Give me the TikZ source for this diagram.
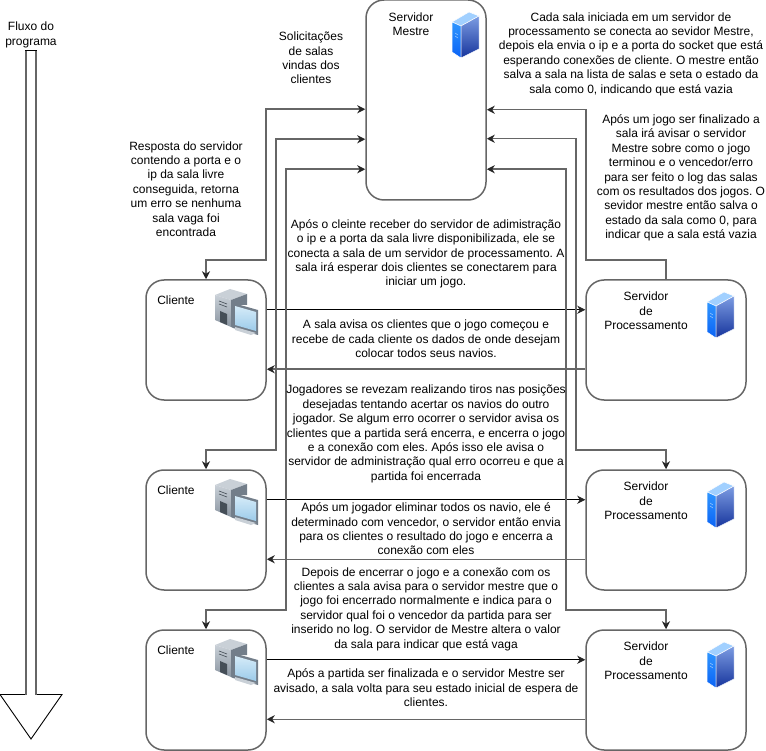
\documentclass[tikz,border=0pt]{standalone}
\usepackage{fontspec}
\setmainfont{Liberation Sans}
\usetikzlibrary{arrows.meta,calc}
\definecolor{linegray}{HTML}{666666}
\definecolor{towerA}{HTML}{C9D0D7}
\definecolor{towerB}{HTML}{8A95A1}
\definecolor{towerC}{HTML}{454E57}
\definecolor{towerD}{HTML}{737E8A}
\definecolor{screenA}{HTML}{9CCBEA}
\definecolor{screenB}{HTML}{D5EBF8}
\definecolor{blueA}{HTML}{2F96FF}
\definecolor{blueB}{HTML}{0A62F5}
\definecolor{blueC}{HTML}{7C9CE2}
\definecolor{blueD}{HTML}{16349C}
\tikzset{
	every node/.style={font=\fontsize{12}{14.4}\selectfont\frenchspacing, align=center, inner sep=0pt},
	conn/.style={line width=1.5pt, linegray},
	connthin/.style={line width=0.9pt, black},
	roundbox/.style={draw=linegray, line width=1.5pt, rounded corners=18pt, minimum height=120pt},
	clientebox/.style={roundbox, minimum width=120pt},
	servidorbox/.style={roundbox, minimum width=160pt},
	servericon/.pic={
		\fill[blueA!45!white, draw=white, line width=0.5pt] (0,10) -- (17,0) -- (27,4) -- (9,14) -- cycle;
		\shade[top color=blueA, bottom color=blueB, draw=white, line width=0.5pt] (0,10) -- (9,14) -- (9,46) -- (0,40) -- cycle;
		\shade[top color=blueC, bottom color=blueD, draw=white, line width=0.5pt] (9,14) -- (27,4) -- (27,37) -- (9,46) -- cycle;
		\draw[white!70!blueA, line width=0.4pt] (3,21) -- (6,23) (3,24) -- (6,26);
	},
	clienticon/.pic={
		\fill[towerA] (0,6) -- (15,0) -- (32,5) -- (16,11) -- cycle;
		\shade[top color=towerA, bottom color=towerB] (0,6) -- (16,11) -- (16,38) -- (0,31) -- cycle;
		\fill[towerD] (16,11) -- (32,5) -- (32,16) -- (18,16) -- (18,39) -- (16,38) -- cycle;
		\fill[towerC] (5,22) -- (12,25) -- (12,36) -- (5,33) -- cycle;
		\draw[towerC, line width=0.6pt] (4,12) -- (12,15) (4,15) -- (12,18);
		\fill[towerD] (18,14) -- (43,21) -- (43,46) -- (18,39) -- cycle;
		\shade[top color=screenB, bottom color=screenA] (20,17) -- (41,23) -- (41,42) -- (20,36) -- cycle;
		\fill[towerA] (20,38) -- (41,44) -- (36,46) -- (20,41) -- cycle;
	},
}
\begin{document}
\begin{tikzpicture}[x=1pt, y=-1pt, >={Stealth[length=8pt,width=8pt,inset=2.5pt,color=black!85]}]
	\useasboundingbox (0,0) rectangle (766,751);
	% Flow arrow
	\draw[connthin] (36,694.5) -- (62,694.5) -- (31,739) -- (0,694.5) -- (26,694.5);
	\draw[conn] (26,694.5) -- (26,50.5);
	\draw[conn] (36,694.5) -- (36,50.5);
	\draw[connthin] (25.3,50.5) -- (36.7,50.5);
	\node (fluxo) at (31,35) {Fluxo do\\programa};
	% Master
	\node[roundbox, minimum width=120pt, minimum height=200pt] (master) at (426,100) {};
	\node (masterlabel) at (411,24) {Servidor\\Mestre};
	\pic at (452,12) {servericon};
	% Rows
	\foreach \k/\rowtop in {1/280, 2/470, 3/630} {
		\node[clientebox] (cliente\k) at (206,\rowtop+60) {};
		\node[servidorbox] (servidor\k) at (666,\rowtop+60) {};
		\node (clientelabel\k) at (176,\rowtop+20.5) {Cliente};
		\node (servidorlabel\k) at (646,\rowtop+31) {Servidor\\de\\Processamento};
		\pic at (215,\rowtop+9) {clienticon};
		\pic at (707,\rowtop+12) {servericon};
		\draw[connthin, ->] ($(cliente\k.north east)+(0,30.5)$) -- ($(servidor\k.north west)+(0,30.5)$);
		\draw[conn, ->] ($(servidor\k.north west)+(0,90)$) -- ($(cliente\k.north east)+(0,90)$);
	}
	% Requests on the left
	\foreach \k/\porty/\lanex/\turny in {1/110/266/260, 2/140/276/450, 3/170/286/610} {
		\draw[conn, <->] ($(master.north west)+(0,\porty)$) -| (\lanex,\turny) -| (cliente\k.north);
	}
	% Rooms on the right
	\draw[conn, <-] ($(master.north east)+(0,110.5)$) -| (586,260) -| (servidor1.north);
	\draw[conn, <->] ($(master.north east)+(0,139.5)$) -| (576,450) -| (servidor2.north);
	\draw[conn, <->] ($(master.north east)+(0,170)$) -| (566,610) -| (servidor3.north);
	% Texts
	\node (solicitacoes) at (311,58) {Solicitações\\de salas\\vindas dos\\clientes};
	\node (resposta) at (186,189) {Resposta do servidor\\contendo a porta e o\\ip da sala livre\\conseguida, retorna\\um erro se nenhuma\\sala vaga foi\\encontrada};
	\node (cadasala) at (631,54) {Cada sala iniciada em um servidor de\\processamento se conecta ao sevidor Mestre,\\depois ela envia o ip e a porta do socket que está\\esperando conexões de cliente. O mestre então\\salva a sala na lista de salas e seta o estado da\\sala como 0, indicando que está vazia};
	\node (aposjogo) at (681,178) {Após um jogo ser finalizado a\\sala irá avisar o servidor\\Mestre sobre como o jogo\\terminou e o vencedor/erro\\para ser feito o log das salas\\com os resultados dos jogos. O\\sevidor mestre então salva o\\estado da sala como 0, para\\indicar que a sala está vazia};
	\node (aposcliente) at (426,254) {Após o cleinte receber do servidor de adimistração\\o ip e a porta da sala livre disponibilizada, ele se\\conecta a sala de um servidor de processamento. A\\sala irá esperar dois clientes se conectarem para\\iniciar um jogo.};
	\node (avisa) at (426,339) {A sala avisa os clientes que o jogo começou e\\recebe de cada cliente os dados de onde desejam\\colocar todos seus navios.};
	\node (jogadores) at (426,434) {Jogadores se revezam realizando tiros nas posições\\desejadas tentando acertar os navios do outro\\jogador. Se algum erro ocorrer o servidor avisa os\\clientes que a partida será encerra, e encerra o jogo\\e a conexão com eles. Após isso ele avisa o\\servidor de administração qual erro ocorreu e que a\\partida foi encerrada};
	\node (eliminar) at (426,529) {Após um jogador eliminar todos os navio, ele é\\determinado com vencedor, o servidor então envia\\para os clientes o resultado do jogo e encerra a\\conexão com eles};
	\node (depois) at (426,609) {Depois de encerrar o jogo e a conexão com os\\clientes a sala avisa para o servidor mestre que o\\jogo foi encerrado normalmente e indica para o\\servidor qual foi o vencedor da partida para ser\\inserido no log. O servidor de Mestre altera o valor\\da sala para indicar que está vaga};
	\node (finalizada) at (426,688) {Após a partida ser finalizada e o servidor Mestre ser\\avisado, a sala volta para seu estado inicial de espera de\\clientes.};
\end{tikzpicture}
\end{document}
